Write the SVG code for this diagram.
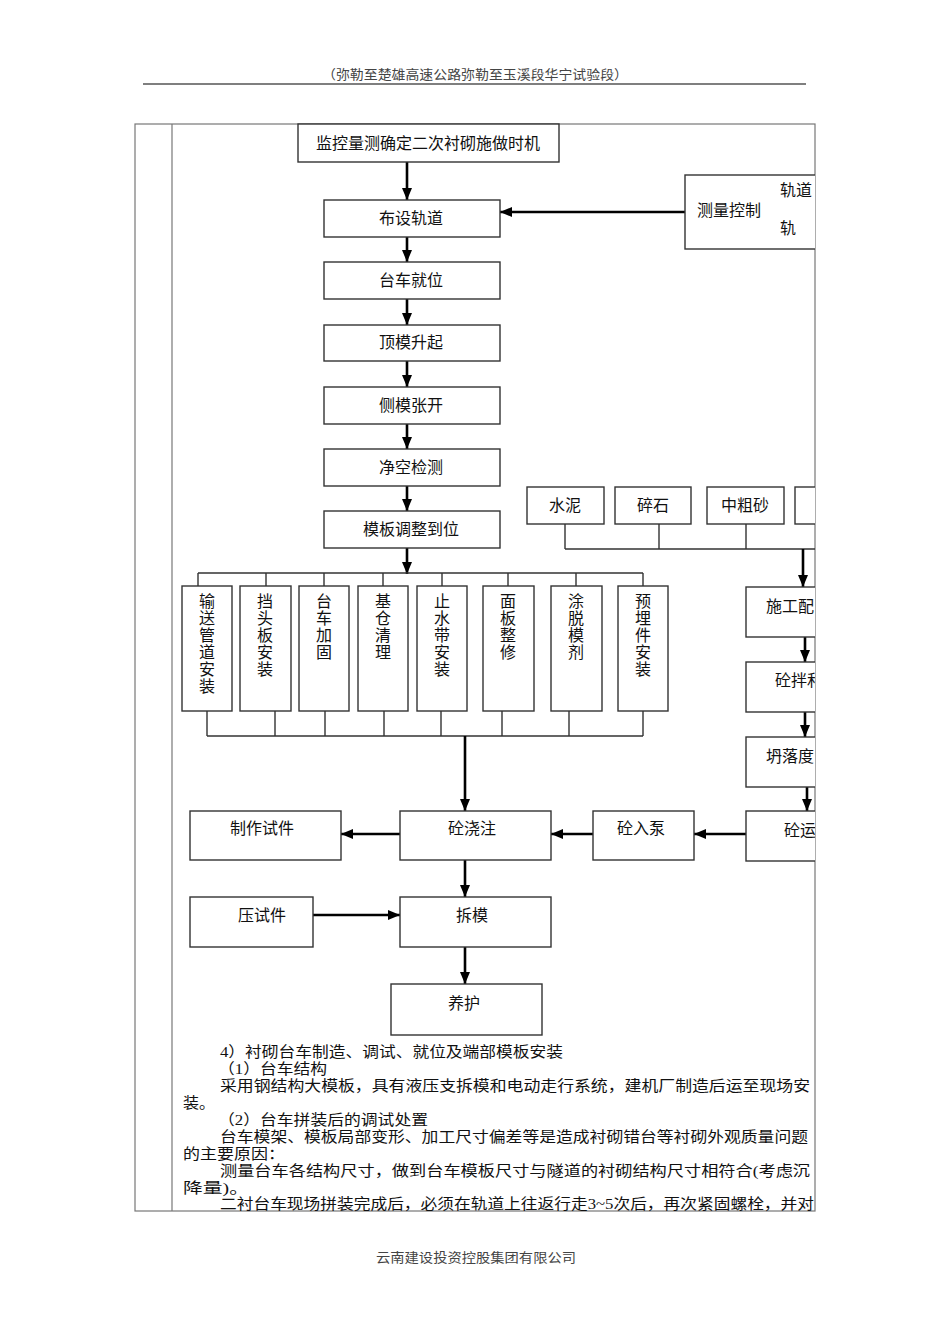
<svg xmlns="http://www.w3.org/2000/svg" width="950" height="1344" viewBox="0 0 950 1344">
<style>
.bx{fill:#fff;stroke:#333;stroke-width:1.4}
.t{font-family:"Liberation Sans","Noto Sans CJK SC",sans-serif;font-size:16px;fill:#111}
.tm{text-anchor:middle}
.ln{stroke:#333;stroke-width:1.4;fill:none}
.ar{stroke:#000;stroke-width:2.6;fill:none;marker-end:url(#ah)}
.tb{stroke:#777;stroke-width:1.2;fill:none}
.p{font-family:"Liberation Serif","Noto Sans CJK SC",serif;font-size:15px;fill:#111}
.hd{font-family:"Liberation Serif","Noto Sans CJK SC",serif;font-size:13px;fill:#444}
</style>
<defs>
<marker id="ah" viewBox="0 0 12 10" refX="12" refY="5" markerWidth="12" markerHeight="10" markerUnits="userSpaceOnUse" orient="auto">
<path d="M0,0 L12,5 L0,10 z" fill="#000"/>
</marker>
<clipPath id="cl"><rect x="0" y="0" width="815" height="1344"/></clipPath>
</defs>
<rect width="950" height="1344" fill="#fff"/>

<g id="header">
<text class="hd" x="475" y="79" text-anchor="middle" textLength="306" lengthAdjust="spacingAndGlyphs">（弥勒至楚雄高速公路弥勒至玉溪段华宁试验段）</text>
<line x1="143" y1="84" x2="806" y2="84" stroke="#000" stroke-width="1.2"/>
</g>

<g id="table">
<rect class="tb" x="135" y="124" width="680" height="1087"/>
<line class="tb" x1="172" y1="124" x2="172" y2="1211"/>
</g>

<g id="connectors">
<line class="ar" x1="407" y1="162" x2="407" y2="200"/>
<line class="ar" x1="685" y1="212" x2="500" y2="212"/>
<line class="ar" x1="407" y1="237" x2="407" y2="262"/>
<line class="ar" x1="407" y1="299" x2="407" y2="325"/>
<line class="ar" x1="407" y1="361" x2="407" y2="387"/>
<line class="ar" x1="407" y1="424" x2="407" y2="449"/>
<line class="ar" x1="407" y1="486" x2="407" y2="511"/>
<line class="ar" x1="407" y1="548" x2="407" y2="574"/>
<path class="ln" d="M198,573 H643 M198,573 V586 M266,573 V586 M324,573 V586 M383,573 V586 M442,573 V586 M508,573 V586 M576,573 V586 M643,573 V586"/>
<path class="ln" d="M207,711 V736 M275,711 V736 M325,711 V736 M384,711 V736 M441,711 V736 M502,711 V736 M569,711 V736 M643,711 V736 M207,736 H643"/>
<line class="ar" x1="465" y1="736" x2="465" y2="811"/>
<path class="ln" clip-path="url(#cl)" d="M565,524 V549 M659,524 V549 M746,524 V549 M565,549 H830"/>
<line class="ar" x1="803" y1="549" x2="803" y2="587"/>
<line class="ar" x1="805" y1="637" x2="805" y2="662"/>
<line class="ar" x1="805" y1="712" x2="805" y2="737"/>
<line class="ar" x1="807" y1="787" x2="807" y2="811"/>
<line class="ar" x1="746" y1="834" x2="694" y2="834"/>
<line class="ar" x1="593" y1="834" x2="551" y2="834"/>
<line class="ar" x1="400" y1="834" x2="341" y2="834"/>
<line class="ar" x1="465" y1="860" x2="465" y2="897"/>
<line class="ar" x1="313" y1="915" x2="400" y2="915"/>
<line class="ar" x1="465" y1="947" x2="465" y2="984"/>
</g>

<g id="n-jkls"><rect class="bx" x="298" y="124" width="261" height="38"/><text class="t tm" x="428" y="149">监控量测确定二次衬砌施做时机</text></g>
<g id="n-bsgd"><rect class="bx" x="324" y="200" width="176" height="37"/><text class="t tm" x="411" y="224">布设轨道</text></g>
<g id="n-clkz" clip-path="url(#cl)"><rect class="bx" x="685" y="175" width="160" height="74"/><text class="t" x="697" y="216">测量控制</text><text class="t" x="780" y="196">轨道</text><text class="t" x="780" y="234">轨</text></g>
<g id="n-tcjw"><rect class="bx" x="324" y="262" width="176" height="37"/><text class="t tm" x="411" y="286">台车就位</text></g>
<g id="n-dmsq"><rect class="bx" x="324" y="325" width="176" height="36"/><text class="t tm" x="411" y="348">顶模升起</text></g>
<g id="n-cmzk"><rect class="bx" x="324" y="387" width="176" height="37"/><text class="t tm" x="411" y="411">侧模张开</text></g>
<g id="n-jkjc"><rect class="bx" x="324" y="449" width="176" height="37"/><text class="t tm" x="411" y="473">净空检测</text></g>
<g id="n-mbtz"><rect class="bx" x="324" y="511" width="176" height="37"/><text class="t tm" x="411" y="535">模板调整到位</text></g>

<g id="n-sn"><rect class="bx" x="527" y="487" width="77" height="37"/><text class="t tm" x="565" y="511">水泥</text></g>
<g id="n-ss"><rect class="bx" x="615" y="487" width="76" height="37"/><text class="t tm" x="653" y="511">碎石</text></g>
<g id="n-zcs"><rect class="bx" x="707" y="487" width="77" height="37"/><text class="t tm" x="745" y="511">中粗砂</text></g>
<g id="n-m4" clip-path="url(#cl)"><rect class="bx" x="795" y="487" width="77" height="37"/></g>

<g id="n-v1"><rect class="bx" x="182" y="586" width="50" height="125"/><text class="t tm" x="207" y="607"><tspan x="207">输</tspan><tspan x="207" dy="17">送</tspan><tspan x="207" dy="17">管</tspan><tspan x="207" dy="17">道</tspan><tspan x="207" dy="17">安</tspan><tspan x="207" dy="17">装</tspan></text></g>
<g id="n-v2"><rect class="bx" x="240" y="586" width="51" height="125"/><text class="t tm" x="265" y="607"><tspan x="265">挡</tspan><tspan x="265" dy="17">头</tspan><tspan x="265" dy="17">板</tspan><tspan x="265" dy="17">安</tspan><tspan x="265" dy="17">装</tspan></text></g>
<g id="n-v3"><rect class="bx" x="299" y="586" width="50" height="125"/><text class="t tm" x="324" y="607"><tspan x="324">台</tspan><tspan x="324" dy="17">车</tspan><tspan x="324" dy="17">加</tspan><tspan x="324" dy="17">固</tspan></text></g>
<g id="n-v4"><rect class="bx" x="358" y="586" width="50" height="125"/><text class="t tm" x="383" y="607"><tspan x="383">基</tspan><tspan x="383" dy="17">仓</tspan><tspan x="383" dy="17">清</tspan><tspan x="383" dy="17">理</tspan></text></g>
<g id="n-v5"><rect class="bx" x="417" y="586" width="50" height="125"/><text class="t tm" x="442" y="607"><tspan x="442">止</tspan><tspan x="442" dy="17">水</tspan><tspan x="442" dy="17">带</tspan><tspan x="442" dy="17">安</tspan><tspan x="442" dy="17">装</tspan></text></g>
<g id="n-v6"><rect class="bx" x="483" y="586" width="51" height="125"/><text class="t tm" x="508" y="607"><tspan x="508">面</tspan><tspan x="508" dy="17">板</tspan><tspan x="508" dy="17">整</tspan><tspan x="508" dy="17">修</tspan></text></g>
<g id="n-v7"><rect class="bx" x="551" y="586" width="51" height="125"/><text class="t tm" x="576" y="607"><tspan x="576">涂</tspan><tspan x="576" dy="17">脱</tspan><tspan x="576" dy="17">模</tspan><tspan x="576" dy="17">剂</tspan></text></g>
<g id="n-v8"><rect class="bx" x="618" y="586" width="50" height="125"/><text class="t tm" x="643" y="607"><tspan x="643">预</tspan><tspan x="643" dy="17">埋</tspan><tspan x="643" dy="17">件</tspan><tspan x="643" dy="17">安</tspan><tspan x="643" dy="17">装</tspan></text></g>

<g id="n-sgpb" clip-path="url(#cl)"><rect class="bx" x="746" y="587" width="120" height="50"/><text class="t" x="766" y="612">施工配</text></g>
<g id="n-tbh" clip-path="url(#cl)"><rect class="bx" x="746" y="662" width="120" height="50"/><text class="t" x="775" y="686">砼拌和</text></g>
<g id="n-tld" clip-path="url(#cl)"><rect class="bx" x="746" y="737" width="120" height="50"/><text class="t" x="766" y="762">坍落度</text></g>
<g id="n-tys" clip-path="url(#cl)"><rect class="bx" x="746" y="811" width="120" height="50"/><text class="t" x="784" y="836">砼运</text></g>

<g id="n-zzsj"><rect class="bx" x="190" y="811" width="151" height="49"/><text class="t" x="230" y="834">制作试件</text></g>
<g id="n-tjz"><rect class="bx" x="400" y="811" width="151" height="49"/><text class="t" x="448" y="834">砼浇注</text></g>
<g id="n-trb"><rect class="bx" x="593" y="811" width="101" height="49"/><text class="t" x="617" y="834">砼入泵</text></g>
<g id="n-ysj"><rect class="bx" x="190" y="897" width="123" height="50"/><text class="t" x="238" y="921">压试件</text></g>
<g id="n-cm"><rect class="bx" x="400" y="897" width="151" height="50"/><text class="t" x="456" y="921">拆模</text></g>
<g id="n-yh"><rect class="bx" x="391" y="984" width="151" height="51"/><text class="t" x="448" y="1009">养护</text></g>

<g id="body">
<text class="p" x="220" y="1057" textLength="343" lengthAdjust="spacingAndGlyphs">4）衬砌台车制造、调试、就位及端部模板安装</text>
<text class="p" x="218" y="1074" textLength="109" lengthAdjust="spacingAndGlyphs">（1）台车结构</text>
<text class="p" x="220" y="1091" textLength="590" lengthAdjust="spacingAndGlyphs">采用钢结构大模板，具有液压支拆模和电动走行系统，建机厂制造后运至现场安</text>
<text class="p" x="183" y="1108" textLength="32" lengthAdjust="spacingAndGlyphs">装。</text>
<text class="p" x="218" y="1125" textLength="210" lengthAdjust="spacingAndGlyphs">（2）台车拼装后的调试处置</text>
<text class="p" x="220" y="1142" textLength="588" lengthAdjust="spacingAndGlyphs">台车模架、模板局部变形、加工尺寸偏差等是造成衬砌错台等衬砌外观质量问题</text>
<text class="p" x="183" y="1159" textLength="102" lengthAdjust="spacingAndGlyphs">的主要原因：</text>
<text class="p" x="220" y="1176" textLength="590" lengthAdjust="spacingAndGlyphs">测量台车各结构尺寸，做到台车模板尺寸与隧道的衬砌结构尺寸相符合(考虑沉</text>
<text class="p" x="183" y="1193" textLength="66" lengthAdjust="spacingAndGlyphs">降量)。</text>
<text class="p" x="220" y="1209" textLength="594" lengthAdjust="spacingAndGlyphs">二衬台车现场拼装完成后，必须在轨道上往返行走3~5次后，再次紧固螺栓，并对</text>
</g>

<g id="footer">
<text class="hd" x="476" y="1262" text-anchor="middle" textLength="200" lengthAdjust="spacingAndGlyphs">云南建设投资控股集团有限公司</text>
</g>
</svg>
